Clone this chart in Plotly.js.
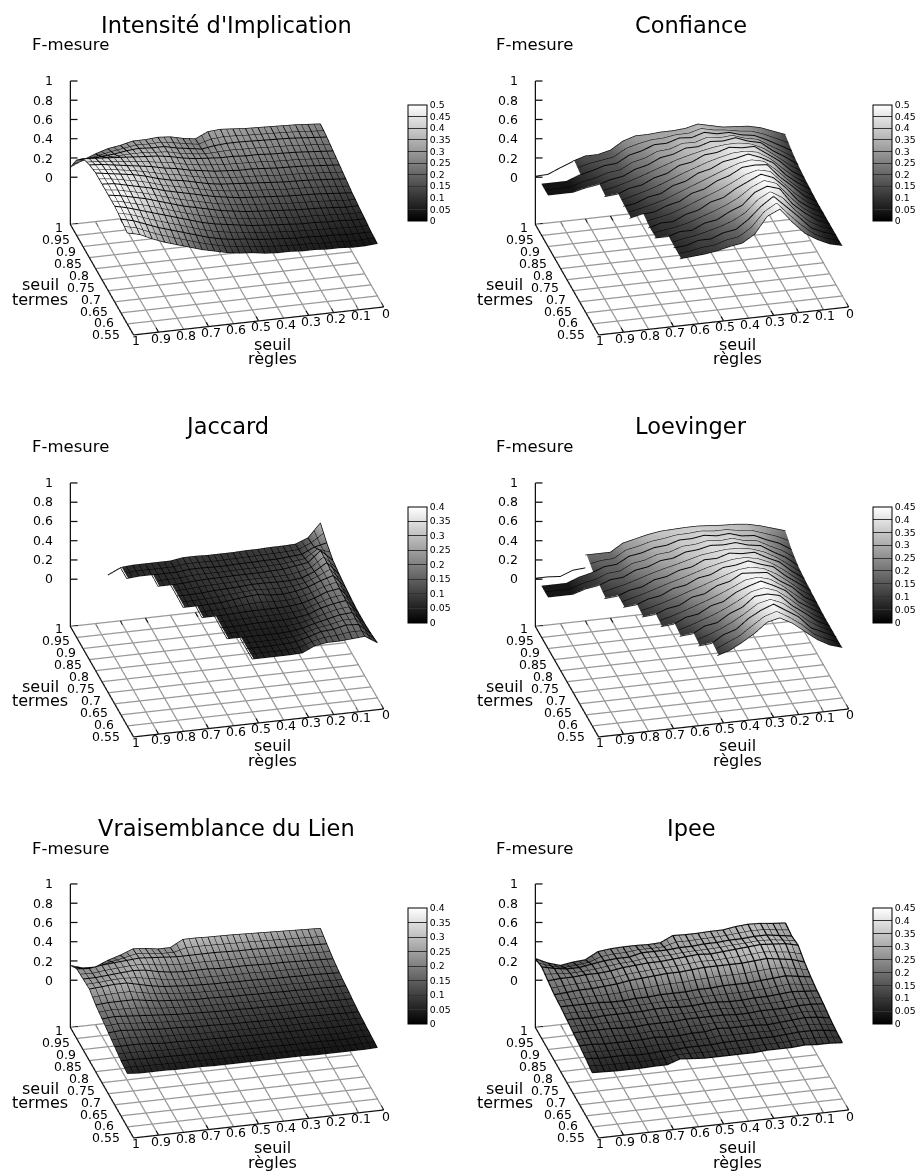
<!DOCTYPE html>
<html><head><meta charset="utf-8"><script src="https://cdn.plot.ly/plotly-3.0.1.min.js"></script>
<style>html,body{margin:0;padding:0;background:#fff;overflow:hidden}</style></head><body><div id="c" style="width:923px;height:1171px"></div>
<script>
const _=null;
const regles=[0,.05,.1,.15,.2,.25,.3,.35,.4,.45,.5,.55,.6,.65,.7,.75,.8,.85,.9,.95,1];
const termes=[1,.95,.9,.85,.8,.75,.7,.65,.6,.55];
const intensite=[
[.26,.27,.28,.285,.29,.295,.30,.31,.32,.31,.25,.27,.30,.31,.30,.30,.27,.25,.21,.16,.10],
[.24,.25,.26,.27,.275,.28,.285,.29,.29,.28,.26,.28,.30,.33,.33,.34,.33,.31,.30,.29,.29],
[.21,.22,.23,.24,.245,.25,.26,.26,.27,.27,.28,.29,.31,.34,.36,.37,.38,.39,.40,.41,.42],
[.18,.19,.20,.21,.215,.22,.23,.24,.24,.25,.26,.28,.30,.33,.35,.38,.40,.42,.44,.46,.47],
[.15,.16,.17,.18,.185,.19,.20,.21,.22,.23,.24,.26,.29,.32,.34,.37,.41,.44,.46,.48,.50],
[.12,.13,.14,.15,.155,.16,.17,.18,.19,.20,.22,.24,.27,.30,.33,.36,.40,.43,.46,.49,.50],
[.10,.10,.11,.12,.125,.13,.14,.15,.16,.17,.19,.21,.24,.27,.30,.34,.38,.42,.45,.48,.50],
[.08,.08,.09,.09,.10,.10,.11,.12,.13,.14,.16,.18,.20,.23,.27,.31,.35,.39,.43,.47,.50],
[.06,.06,.06,.07,.07,.08,.08,.09,.10,.11,.13,.14,.16,.19,.23,.27,.31,.35,.40,.45,.48],
[.05,.04,.04,.05,.05,.06,.06,.07,.07,.08,.10,.11,.13,.16,.19,.23,.27,.31,.36,.42,.45]];
const confiance=[
[.15,.20,.25,.28,.29,.30,.33,.36,.33,.32,.32,.31,.31,.27,.19,.16,.16,.12,_,_,_],
[.10,.17,.24,.30,.32,.36,.36,.39,.35,.36,.32,.32,.27,.24,.17,.16,.12,.09,.04,.04,.04],
[.07,.16,.24,.34,.37,.42,.40,.41,.37,.37,.32,.30,.24,.21,.15,.13,.09,.07,.04,.04,.04],
[.05,.13,.25,.34,.43,.43,.45,.41,.40,.34,.32,.25,.22,.16,.14,.09,.08,_,_,_,_],
[.04,.12,.22,.36,.43,.48,.45,.43,.37,.34,.27,.24,.17,.15,.10,.08,_,_,_,_,_],
[.03,.10,.22,.33,.47,.48,.47,.40,.36,.29,.26,.19,.16,.11,.10,.07,_,_,_,_,_],
[.03,.09,.18,.33,.45,.50,.44,.38,.30,.27,.20,.17,.11,.11,.07,_,_,_,_,_,_],
[.03,.08,.17,.28,.45,.49,.44,.32,.27,.20,.18,.12,.12,.08,.08,_,_,_,_,_,_],
[.03,.07,.13,.26,.38,.50,.41,.29,.20,.18,.13,.13,.09,.08,_,_,_,_,_,_,_],
[.03,.06,.12,.20,.33,.48,.42,.25,.17,.15,.12,.10,.09,.08,_,_,_,_,_,_,_]];
const confianceLigne=[_,_,_,_,_,_,_,_,_,_,_,_,_,_,_,_,_,.12,.07,.015,.01];
const jaccard=[
[.29,.15,.10,.095,.095,.09,.09,.085,.085,.085,.09,.09,.07,.07,.07,.07,.06,_,_,_,_],
[.20,.17,.11,.10,.09,.09,.085,.085,.08,.08,.085,.085,.07,.07,.07,.07,.06,_,_,_,_],
[.13,.25,.14,.12,.10,.095,.09,.09,.09,.085,.085,.08,.07,.065,.065,_,_,_,_,_,_],
[.10,.24,.16,.11,.095,.095,.10,.10,.09,.085,.08,.07,.065,.065,_,_,_,_,_,_,_],
[.08,.22,.18,.13,.10,.085,.09,.11,.10,.085,.07,.065,.06,.06,_,_,_,_,_,_,_],
[.06,.20,.18,.13,.09,.075,.07,.07,.07,.065,.06,.055,.055,_,_,_,_,_,_,_,_],
[.05,.19,.17,.14,.09,.07,.06,.06,.06,.055,.05,.05,_,_,_,_,_,_,_,_,_],
[.05,.18,.17,.14,.11,.075,.055,.05,.05,.05,.05,.05,_,_,_,_,_,_,_,_,_],
[.06,.17,.18,.15,.14,.10,.065,.055,.05,.05,.05,_,_,_,_,_,_,_,_,_,_],
[.08,.16,.15,.14,.14,.12,.06,.055,.055,.055,.055,_,_,_,_,_,_,_,_,_,_]];
const jaccardLigne=[_,_,_,_,_,_,_,_,_,_,_,_,_,_,_,_,.06,.0,_,_,_];
const loevinger=[
[.21,.25,.29,.32,.335,.34,.35,.36,.36,.355,.35,.33,.30,.27,.19,.19,.19,_,_,_,_],
[.13,.21,.26,.32,.33,.37,.36,.38,.36,.36,.32,.31,.27,.25,.18,.17,.12,.09,.04,.04,.04],
[.08,.18,.25,.33,.35,.39,.38,.39,.36,.35,.30,.29,.24,.22,.16,.15,.10,.08,.04,.04,.04],
[.06,.15,.26,.32,.39,.39,.41,.37,.37,.31,.29,.24,.22,.16,.14,.09,.08,_,_,_,_],
[.05,.14,.23,.34,.38,.43,.40,.39,.33,.31,.25,.23,.17,.15,.10,.09,_,_,_,_,_],
[.04,.11,.23,.31,.41,.42,.43,.36,.33,.26,.24,.17,.15,.10,.09,_,_,_,_,_,_],
[.03,.11,.19,.32,.39,.45,.41,.36,.28,.25,.18,.16,.10,.09,_,_,_,_,_,_,_],
[.03,.09,.19,.28,.40,.43,.42,.32,.27,.19,.17,.10,.09,_,_,_,_,_,_,_,_],
[.03,.09,.15,.28,.36,.44,.39,.32,.22,.18,.10,.09,_,_,_,_,_,_,_,_,_],
[.03,.07,.14,.24,.34,.41,.38,.28,.20,.13,.09,_,_,_,_,_,_,_,_,_,_]];
const loevingerLigne=[_,_,_,_,_,_,_,_,_,_,_,_,_,_,_,_,.06,.05,.0,.01,.01];
const vraisemblance=[
[.245,.25,.255,.26,.265,.27,.275,.28,.283,.285,.29,.29,.22,.22,.24,.25,.20,.16,.105,.11,.15],
[.20,.205,.21,.215,.22,.225,.23,.23,.235,.24,.24,.24,.24,.25,.26,.27,.26,.25,.24,.22,.23],
[.16,.165,.17,.175,.18,.18,.185,.19,.19,.19,.20,.20,.20,.21,.23,.26,.27,.26,.25,.24,.24],
[.13,.135,.14,.14,.145,.145,.15,.155,.155,.16,.16,.165,.17,.18,.19,.21,.24,.27,.27,.26,.25],
[.11,.11,.115,.115,.12,.12,.125,.125,.13,.13,.135,.14,.14,.15,.16,.17,.19,.21,.21,.21,.20],
[.09,.09,.095,.095,.10,.10,.10,.105,.105,.11,.11,.115,.12,.125,.13,.14,.15,.16,.17,.18,.17],
[.07,.07,.075,.075,.08,.08,.08,.085,.085,.09,.09,.095,.10,.10,.11,.115,.12,.13,.14,.15,.14],
[.06,.06,.06,.06,.065,.065,.065,.07,.07,.07,.075,.075,.08,.08,.085,.09,.09,.10,.11,.11,.11],
[.05,.05,.045,.045,.05,.05,.05,.05,.055,.055,.055,.06,.06,.06,.065,.065,.07,.07,.075,.08,.08],
[.04,.035,.035,.035,.035,.035,.04,.04,.04,.04,.04,.04,.04,.04,.045,.045,.045,.05,.05,.05,.06]];
const ipee=[
[.30,.31,.325,.33,.32,.30,.30,.295,.295,.30,.24,.235,.24,.24,.235,.22,.15,.14,.12,.16,.22],
[.28,.30,.32,.32,.31,.31,.30,.30,.29,.29,.28,.28,.28,.25,.25,.24,.22,.20,.20,.22,.25],
[.30,.33,.34,.35,.34,.33,.32,.31,.32,.31,.30,.29,.29,.28,.27,.25,.24,.24,.23,.23,.22],
[.24,.28,.30,.32,.31,.30,.30,.30,.30,.29,.28,.28,.27,.26,.25,.23,.22,.21,.21,.20,.19],
[.20,.22,.24,.23,.22,.21,.21,.21,.20,.20,.19,.19,.19,.18,.18,.17,.17,.18,.18,.18,.18],
[.17,.18,.19,.18,.17,.17,.16,.16,.17,.17,.16,.16,.17,.17,.16,.16,.16,.16,.15,.16,.16],
[.15,.16,.16,.15,.15,.15,.14,.14,.15,.15,.15,.15,.14,.14,.14,.13,.13,.14,.14,.14,.14],
[.12,.14,.15,.14,.13,.12,.13,.13,.13,.14,.12,.12,.11,.11,.12,.11,.11,.11,.11,.12,.12],
[.10,.12,.13,.13,.12,.11,.11,.11,.11,.11,.10,.10,.10,.09,.09,.08,.08,.09,.09,.09,.10],
[.09,.10,.10,.11,.10,.10,.10,.09,.09,.09,.09,.09,.10,.11,.065,.065,.06,.06,.06,.065,.07]];
const panels=[
 {t:"Intensité d'Implication",z:intensite,max:.5,dx:0,dy:0,xl:1,w:1.5},
 {t:"Confiance",z:confiance,line:confianceLigne,max:.5,dx:464.5,dy:0,xl:0,w:1.5},
 {t:"Jaccard",z:jaccard,line:jaccardLigne,max:.4,dx:0,dy:401.5,xl:1,w:1.5},
 {t:"Loevinger",z:loevinger,line:loevingerLigne,max:.45,dx:464.5,dy:401.5,xl:0,w:1.5},
 {t:"Vraisemblance du Lien",z:vraisemblance,max:.4,dx:0,dy:803,xl:1,w:1.5},
 {t:"Ipee",z:ipee,max:.45,dx:464.5,dy:803,xl:1,w:2.5}];
const W=923,H=1171,Z0=-.49,S=1.73,LIFT=.004;
const xt=[1,.9,.8,.7,.6,.5,.4,.3,.2,.1,0], yt=[.55,.6,.65,.7,.75,.8,.85,.9,.95,1], zt=[0,.2,.4,.6,.8,1];
const gray=[[0,'#000'],[1,'#fff']];
const traces=[],annots=[],layout={width:W,height:H,margin:{l:0,r:0,t:0,b:0,autoexpand:false},paper_bgcolor:'#fff',showlegend:false,annotations:annots};
const FONT='DejaVu Sans, sans-serif';
function lab(t,x,y,s){annots.push({xref:'paper',yref:'paper',x:x/W,y:1-y/H,text:t,showarrow:false,font:{family:FONT,size:s,color:'#000'},xanchor:'center',yanchor:'middle'});}
panels.forEach((p,i)=>{
 const sc='scene'+(i?i+1:'');
 const cx=227+p.dx,cy=194+p.dy,hw=190,hh=150;
 traces.push({type:'surface',scene:sc,x:regles,y:termes,z:p.z,cmin:0,cmax:p.max,colorscale:gray,hoverinfo:'skip',connectgaps:false,
  lighting:{ambient:1,diffuse:0,specular:0,fresnel:0,roughness:1},
  contours:{x:{show:!!p.xl,start:0,end:1.01,size:.025,color:'#000',width:1},y:{show:true,start:.55,end:1.01,size:.025,color:'#000',width:1},z:{show:false}},
  colorbar:{x:(408+p.dx)/W,xanchor:'left',y:1-(105+p.dy)/H,yanchor:'top',len:116,lenmode:'pixels',thickness:19,thicknessmode:'pixels',xpad:0,ypad:0,outlinewidth:1,outlinecolor:'#000',
    tick0:0,dtick:.05,ticks:'inside',ticklen:19,tickwidth:1,tickcolor:'#333',tickfont:{family:FONT,size:9.3,color:'#000'}}});
 // mesh: rows and columns of the value table itself
 const mx=[],my=[],mz=[];
 termes.forEach((t,r)=>{regles.forEach((v,c)=>{const q=p.z[r][c];mx.push(v);my.push(t);mz.push(q===null?null:q+LIFT);});mx.push(null);my.push(null);mz.push(null);});
 if(p.xl) regles.forEach((v,c)=>{termes.forEach((t,r)=>{const q=p.z[r][c];mx.push(v);my.push(t);mz.push(q===null?null:q+LIFT);});mx.push(null);my.push(null);mz.push(null);});
 traces.push({type:'scatter3d',mode:'lines',scene:sc,x:mx,y:my,z:mz,connectgaps:false,line:{color:'#111',width:p.w},hoverinfo:'skip',showlegend:false});
 if(p.line) traces.push({type:'scatter3d',mode:'lines',scene:sc,x:regles,y:regles.map(()=>1),z:p.line,connectgaps:false,line:{color:'#111',width:2},hoverinfo:'skip',showlegend:false});
 const gx=[],gy=[],gz=[],bx=[],by=[],bz=[];
 const seg=(ax,ay,az,a,b,c,d,e,f)=>{ax.push(a,d,null);ay.push(b,e,null);az.push(c,f,null);};
 xt.forEach(v=>{seg(gx,gy,gz,v,.5,Z0,v,1,Z0);seg(bx,by,bz,v,.5,Z0,v,.52,Z0);seg(bx,by,bz,v,1,Z0,v,.98,Z0);});
 [.5].concat(yt).forEach(v=>{seg(gx,gy,gz,0,v,Z0,1,v,Z0);seg(bx,by,bz,1,v,Z0,.97,v,Z0);seg(bx,by,bz,0,v,Z0,.03,v,Z0);});
 seg(bx,by,bz,1,1,Z0,1,.5,Z0);seg(bx,by,bz,1,.5,Z0,0,.5,Z0);seg(bx,by,bz,1,1,Z0,1,1,1);
 zt.forEach(v=>seg(bx,by,bz,1,1,v,.973,.9966,v));
 traces.push({type:'scatter3d',mode:'lines',scene:sc,x:gx,y:gy,z:gz,line:{color:'#999',width:2.5},hoverinfo:'skip',showlegend:false});
 traces.push({type:'scatter3d',mode:'lines',scene:sc,x:bx,y:by,z:bz,line:{color:'#111',width:2.5},hoverinfo:'skip',showlegend:false});
 const an=[];
 const A=(t,x,y,z,xa,xs,ys)=>an.push({text:t,x,y,z,showarrow:false,xanchor:xa,yanchor:'middle',xshift:xs,yshift:ys,font:{family:FONT,size:12.5,color:'#000'}});
 xt.forEach(v=>A(String(v),v,.5,Z0,'center',2,-6));
 yt.forEach(v=>A(String(v),1,v,Z0,'right',-5,-(3+8*(1-v)/.45)));
 zt.forEach(v=>A(String(v),1,1,v,'right',-15,0));
 layout[sc]={domain:{x:[(cx-hw)/W,(cx+hw)/W],y:[1-(cy+hh)/H,1-(cy-hh)/H]},bgcolor:'#fff',
  camera:{eye:{x:-.2198,y:-.869,z:.4417},up:{x:0,y:0,z:1},center:{x:0,y:0,z:0},projection:{type:'orthographic'}},
  aspectmode:'manual',aspectratio:{x:S,y:S,z:.62*S},
  xaxis:{range:[1.003,-.003],visible:false},yaxis:{range:[.4985,1.0015],visible:false},zaxis:{range:[Z0-.0045,1.0045],visible:false},annotations:an,dragmode:false};
 lab(p.t,226.7+p.dx,25+p.dy,22.5);
 lab('F-mesure',70.3+p.dx,45+p.dy,16.5);
 lab('seuil',40.3+p.dx,285+p.dy,16);lab('termes',40.3+p.dx,299+p.dy,16);
 lab('seuil',272.7+p.dx,344+p.dy,16);lab('règles',272.7+p.dx,359+p.dy,16);
});
Plotly.newPlot('c',traces,layout,{displayModeBar:false});
</script></body></html>
